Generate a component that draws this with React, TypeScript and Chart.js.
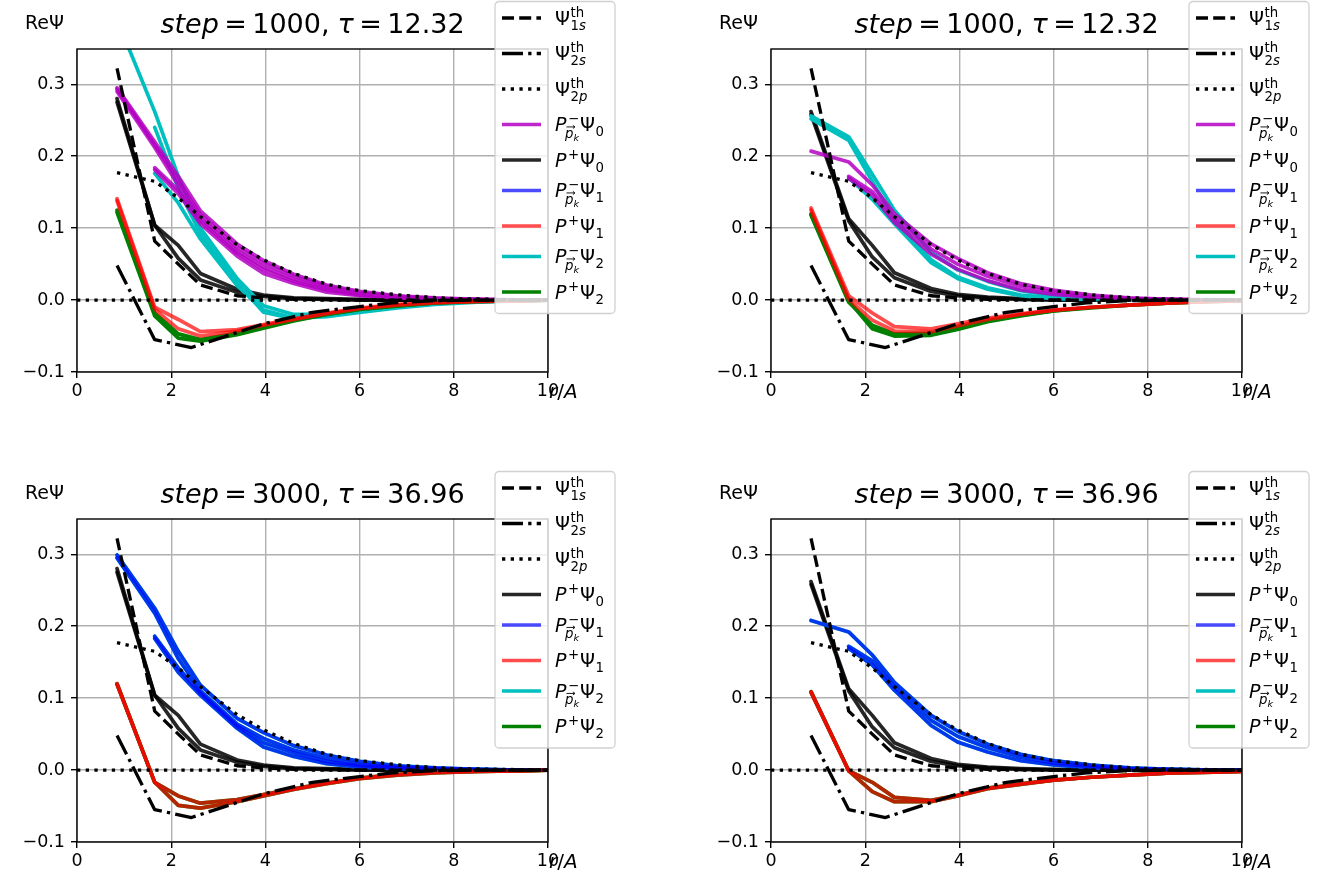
import React, { useEffect, useRef } from "react";
import { Chart, registerables } from "chart.js";

Chart.register(...registerables);

// ---------- grids and ticks ----------
const R_SITES = [0.85, 1.65, 2.15, 2.62, 3.4, 3.96, 4.6, 5.3, 6.0, 6.8, 7.6, 8.5, 9.4, 10.0];
const R_SHELL = [1.65, 2.15, 2.62, 3.4, 3.96, 4.6, 5.3, 6.0, 6.8, 7.6, 8.5, 9.4, 10.0];
const X_TICKS = [0, 2, 4, 6, 8, 10];
const Y_TICKS = [-0.1, 0.0, 0.1, 0.2, 0.3];
const STEPS = [1000, 1000, 3000, 3000];
const TAUS = ["12.32", "12.32", "36.96", "36.96"];

// ---------- theoretical curves ----------
const PSI1S_R = [0.85, 1.65, 2.15, 2.62, 3.4, 3.96, 4.6, 5.3, 6.5, 8.0, 10.0];
const PSI1S = [0.322, 0.082, 0.05, 0.021, 0.006, 0.003, 0.001, 0.0005, 0.0, 0.0, 0.0];
const PSI2S_R = [0.85, 1.65, 2.43, 3.96, 5.0, 6.0, 6.7, 7.5, 8.5, 10.0];
const PSI2S = [0.048, -0.055, -0.066, -0.033, -0.017, -0.009, -0.004, -0.001, 0.0, 0.0];
const PSI2P_R = [0.85, 1.65, 2.15, 2.62, 3.4, 3.96, 4.6, 5.3, 6.0, 7.0, 8.0, 9.0, 10.0];
const PSI2P = [0.177, 0.165, 0.142, 0.116, 0.077, 0.056, 0.037, 0.022, 0.013, 0.006, 0.002, 0.001, 0.0];
const ZERO_R = [0, 10];
const ZERO = [0, 0];

// ---------- top-left: step 1000 ----------
const TL_MAG_A = [0.295, 0.22, 0.172, 0.124, 0.078, 0.055, 0.036, 0.021, 0.012, 0.006, 0.003, 0.001, 0.0, 0.0];
const TL_MAG_B = [0.29, 0.212, 0.16, 0.114, 0.068, 0.046, 0.029, 0.016, 0.008, 0.004, 0.002, 0.001, 0.0, 0.0];
const TL_MAG_C = [0.181, 0.148, 0.106, 0.061, 0.037, 0.023, 0.011, 0.006, 0.003, 0.001, 0.0, 0.0, 0.0];
const TL_MAG_D = [0.293, 0.216, 0.166, 0.119, 0.073, 0.051, 0.033, 0.019, 0.01, 0.005, 0.002, 0.001, 0.0, 0.0];
const TL_MAG_E = [0.184, 0.153, 0.11, 0.065, 0.042, 0.026, 0.014, 0.007, 0.003, 0.001, 0.0, 0.0, 0.0];
const TL_BLK_A = [0.28, 0.104, 0.076, 0.037, 0.015, 0.007, 0.003, 0.002, 0.001, 0.0, 0.0, 0.0, 0.0, 0.0];
const TL_BLK_B = [0.275, 0.104, 0.058, 0.028, 0.011, 0.005, 0.002, 0.001, 0.0, 0.0, 0.0, 0.0, 0.0, 0.0];
const TL_CYN_A = [0.39, 0.262, 0.172, 0.1, 0.03, -0.008, -0.02, -0.02, -0.014, -0.009, -0.005, -0.002, -0.001, 0.0];
const TL_CYN_B = [0.176, 0.135, 0.085, 0.02, -0.014, -0.025, -0.023, -0.017, -0.011, -0.006, -0.003, -0.001, 0.0];
const TL_CYN_C = [0.24, 0.155, 0.092, 0.024, -0.017, -0.026, -0.021, -0.015, -0.009, -0.005, -0.002, -0.001, 0.0];
const TL_RED_A = [0.141, -0.01, -0.027, -0.044, -0.041, -0.034, -0.026, -0.018, -0.011, -0.006, -0.003, -0.002, -0.001, 0.0];
const TL_RED_B = [0.138, -0.013, -0.04, -0.05, -0.043, -0.035, -0.027, -0.019, -0.012, -0.007, -0.004, -0.002, -0.001, 0.0];
const TL_GRN_A = [0.125, -0.018, -0.047, -0.055, -0.046, -0.037, -0.028, -0.02, -0.013, -0.008, -0.004, -0.002, -0.001, 0.0];
const TL_GRN_B = [0.122, -0.022, -0.053, -0.057, -0.048, -0.039, -0.029, -0.02, -0.013, -0.008, -0.004, -0.002, -0.001, 0.0];

// ---------- top-right ----------
const TR_MAG_A = [0.207, 0.192, 0.16, 0.12, 0.078, 0.058, 0.038, 0.023, 0.014, 0.007, 0.003, 0.001, 0.0, 0.0];
const TR_MAG_B = [0.169, 0.146, 0.108, 0.064, 0.043, 0.027, 0.014, 0.008, 0.004, 0.002, 0.001, 0.0, 0.0];
const TR_MAG_C = [0.172, 0.151, 0.114, 0.071, 0.05, 0.033, 0.019, 0.011, 0.005, 0.002, 0.001, 0.0, 0.0];
const TR_BLK_A = [0.262, 0.113, 0.076, 0.038, 0.016, 0.008, 0.004, 0.002, 0.001, 0.0, 0.0, 0.0, 0.0, 0.0];
const TR_BLK_B = [0.258, 0.11, 0.06, 0.031, 0.012, 0.006, 0.003, 0.001, 0.0, 0.0, 0.0, 0.0, 0.0, 0.0];
const TR_CYN_A = [0.256, 0.227, 0.175, 0.125, 0.066, 0.042, 0.026, 0.013, 0.006, 0.003, 0.001, 0.0, 0.0, 0.0];
const TR_CYN_B = [0.252, 0.222, 0.165, 0.113, 0.056, 0.032, 0.017, 0.007, 0.003, 0.001, 0.0, 0.0, 0.0, 0.0];
const TR_CYN_C = [0.17, 0.14, 0.106, 0.052, 0.03, 0.015, 0.006, 0.002, 0.001, 0.0, 0.0, 0.0, 0.0];
const TR_RED_A = [0.128, 0.006, -0.018, -0.037, -0.04, -0.033, -0.025, -0.019, -0.014, -0.01, -0.007, -0.004, -0.002, -0.001];
const TR_RED_B = [0.125, 0.001, -0.028, -0.043, -0.044, -0.036, -0.027, -0.02, -0.014, -0.01, -0.007, -0.004, -0.002, -0.001];
const TR_GRN_A = [0.12, -0.001, -0.04, -0.05, -0.049, -0.041, -0.03, -0.022, -0.015, -0.011, -0.007, -0.004, -0.002, -0.001];
const TR_GRN_B = [0.118, -0.003, -0.035, -0.047, -0.046, -0.038, -0.029, -0.021, -0.015, -0.01, -0.007, -0.004, -0.002, -0.001];

// ---------- bottom-left: step 3000 ----------
const BL_BLK_A = [0.28, 0.104, 0.076, 0.036, 0.014, 0.007, 0.003, 0.002, 0.001, 0.0, 0.0, 0.0, 0.0, 0.0];
const BL_BLK_B = [0.275, 0.104, 0.058, 0.028, 0.011, 0.005, 0.002, 0.001, 0.0, 0.0, 0.0, 0.0, 0.0, 0.0];
const BL_BLU_A = [0.299, 0.225, 0.165, 0.118, 0.072, 0.052, 0.034, 0.021, 0.012, 0.006, 0.003, 0.001, 0.0, 0.0];
const BL_BLU_B = [0.295, 0.218, 0.155, 0.11, 0.064, 0.044, 0.028, 0.016, 0.008, 0.004, 0.002, 0.001, 0.0, 0.0];
const BL_BLU_C = [0.183, 0.136, 0.104, 0.058, 0.032, 0.019, 0.009, 0.004, 0.002, 0.001, 0.0, 0.0, 0.0];
const BL_BLU_D = [0.186, 0.142, 0.107, 0.061, 0.038, 0.024, 0.012, 0.006, 0.003, 0.001, 0.0, 0.0, 0.0];
const BL_RED_A = [0.12, -0.017, -0.036, -0.046, -0.041, -0.034, -0.026, -0.018, -0.011, -0.006, -0.003, -0.002, -0.001, 0.0];
const BL_RED_B = [0.119, -0.017, -0.049, -0.053, -0.044, -0.036, -0.027, -0.019, -0.012, -0.007, -0.004, -0.002, -0.001, 0.0];

// ---------- bottom-right ----------
const BR_BLK_A = [0.262, 0.113, 0.076, 0.038, 0.016, 0.008, 0.004, 0.002, 0.001, 0.0, 0.0, 0.0, 0.0, 0.0];
const BR_BLK_B = [0.258, 0.11, 0.06, 0.031, 0.012, 0.006, 0.003, 0.001, 0.0, 0.0, 0.0, 0.0, 0.0, 0.0];
const BR_BLU_A = [0.208, 0.192, 0.16, 0.122, 0.076, 0.054, 0.036, 0.022, 0.013, 0.007, 0.003, 0.001, 0.0, 0.0];
const BR_BLU_B = [0.169, 0.146, 0.111, 0.062, 0.039, 0.025, 0.013, 0.007, 0.003, 0.001, 0.0, 0.0, 0.0];
const BR_BLU_C = [0.172, 0.152, 0.116, 0.069, 0.047, 0.031, 0.018, 0.01, 0.005, 0.002, 0.001, 0.0, 0.0];
const BR_RED_A = [0.109, -0.001, -0.017, -0.038, -0.042, -0.035, -0.025, -0.019, -0.014, -0.01, -0.007, -0.004, -0.003, -0.002];
const BR_RED_B = [0.108, -0.001, -0.03, -0.044, -0.044, -0.036, -0.026, -0.02, -0.014, -0.01, -0.007, -0.004, -0.003, -0.002];

// ---------- styles ----------
type Kind = "th1s" | "th2s" | "th2p" | "Pm0" | "Pp0" | "Pm1" | "Pp1" | "Pm2" | "Pp2";
const STYLE: Record<Kind, { color: string; dash: number[]; width: number }> = {
  th1s: { color: "#000000", dash: [12, 5.2], width: 3.3 },
  th2s: { color: "#000000", dash: [21, 5.2, 3.3, 5.2], width: 3.3 },
  th2p: { color: "#000000", dash: [3.3, 5.4], width: 3.3 },
  Pm0: { color: "rgba(180,0,195,0.85)", dash: [], width: 3.7 },
  Pp0: { color: "rgba(0,0,0,0.85)", dash: [], width: 3.7 },
  Pm1: { color: "rgba(0,0,255,0.7)", dash: [], width: 3.7 },
  Pp1: { color: "rgba(255,0,0,0.7)", dash: [], width: 3.7 },
  Pm2: { color: "rgb(0,191,191)", dash: [], width: 3.7 },
  Pp2: { color: "rgb(0,128,0)", dash: [], width: 3.7 },
};
// first = drawn on top
const RANK: Kind[] = ["th2p", "th2s", "th1s", "Pp1", "Pm1", "Pp2", "Pm0", "Pm2", "Pp0"];

type Line = { r: number[]; v: number[]; kind: Kind };
const THEORY: Line[] = [
  { r: PSI1S_R, v: PSI1S, kind: "th1s" },
  { r: PSI2S_R, v: PSI2S, kind: "th2s" },
  { r: PSI2P_R, v: PSI2P, kind: "th2p" },
  { r: ZERO_R, v: ZERO, kind: "th2p" },
];

const LEG_TOP: Kind[] = ["th1s", "th2s", "th2p", "Pm0", "Pp0", "Pm1", "Pp1", "Pm2", "Pp2"];
const LEG_BOT: Kind[] = ["th1s", "th2s", "th2p", "Pp0", "Pm1", "Pp1", "Pm2", "Pp2"];

const PANELS: { lines: Line[]; legend: Kind[] }[] = [
  {
    legend: LEG_TOP,
    lines: [
      { r: R_SITES, v: TL_MAG_A, kind: "Pm0" }, { r: R_SITES, v: TL_MAG_B, kind: "Pm0" }, { r: R_SHELL, v: TL_MAG_C, kind: "Pm0" },
      { r: R_SITES, v: TL_MAG_D, kind: "Pm0" }, { r: R_SHELL, v: TL_MAG_E, kind: "Pm0" },
      { r: R_SITES, v: TL_BLK_A, kind: "Pp0" }, { r: R_SITES, v: TL_BLK_B, kind: "Pp0" },
      { r: R_SITES, v: TL_CYN_A, kind: "Pm2" }, { r: R_SHELL, v: TL_CYN_B, kind: "Pm2" }, { r: R_SHELL, v: TL_CYN_C, kind: "Pm2" },
      { r: R_SITES, v: TL_RED_A, kind: "Pp1" }, { r: R_SITES, v: TL_RED_B, kind: "Pp1" },
      { r: R_SITES, v: TL_GRN_A, kind: "Pp2" }, { r: R_SITES, v: TL_GRN_B, kind: "Pp2" },
    ],
  },
  {
    legend: LEG_TOP,
    lines: [
      { r: R_SITES, v: TR_MAG_A, kind: "Pm0" }, { r: R_SHELL, v: TR_MAG_B, kind: "Pm0" }, { r: R_SHELL, v: TR_MAG_C, kind: "Pm0" },
      { r: R_SITES, v: TR_BLK_A, kind: "Pp0" }, { r: R_SITES, v: TR_BLK_B, kind: "Pp0" },
      { r: R_SITES, v: TR_CYN_A, kind: "Pm2" }, { r: R_SITES, v: TR_CYN_B, kind: "Pm2" }, { r: R_SHELL, v: TR_CYN_C, kind: "Pm2" },
      { r: R_SITES, v: TR_RED_A, kind: "Pp1" }, { r: R_SITES, v: TR_RED_B, kind: "Pp1" },
      { r: R_SITES, v: TR_GRN_A, kind: "Pp2" }, { r: R_SITES, v: TR_GRN_B, kind: "Pp2" },
    ],
  },
  {
    legend: LEG_BOT,
    lines: [
      { r: R_SITES, v: BL_BLK_A, kind: "Pp0" }, { r: R_SITES, v: BL_BLK_B, kind: "Pp0" },
      { r: R_SITES, v: BL_BLU_A, kind: "Pm2" }, { r: R_SITES, v: BL_BLU_B, kind: "Pm2" }, { r: R_SHELL, v: BL_BLU_C, kind: "Pm2" }, { r: R_SHELL, v: BL_BLU_D, kind: "Pm2" },
      { r: R_SITES, v: BL_BLU_A, kind: "Pm1" }, { r: R_SITES, v: BL_BLU_B, kind: "Pm1" }, { r: R_SHELL, v: BL_BLU_C, kind: "Pm1" }, { r: R_SHELL, v: BL_BLU_D, kind: "Pm1" },
      { r: R_SITES, v: BL_RED_A, kind: "Pp2" }, { r: R_SITES, v: BL_RED_B, kind: "Pp2" },
      { r: R_SITES, v: BL_RED_A, kind: "Pp1" }, { r: R_SITES, v: BL_RED_B, kind: "Pp1" },
    ],
  },
  {
    legend: LEG_BOT,
    lines: [
      { r: R_SITES, v: BR_BLK_A, kind: "Pp0" }, { r: R_SITES, v: BR_BLK_B, kind: "Pp0" },
      { r: R_SITES, v: BR_BLU_A, kind: "Pm2" }, { r: R_SHELL, v: BR_BLU_B, kind: "Pm2" }, { r: R_SHELL, v: BR_BLU_C, kind: "Pm2" },
      { r: R_SITES, v: BR_BLU_A, kind: "Pm1" }, { r: R_SHELL, v: BR_BLU_B, kind: "Pm1" }, { r: R_SHELL, v: BR_BLU_C, kind: "Pm1" },
      { r: R_SITES, v: BR_RED_A, kind: "Pp2" }, { r: R_SITES, v: BR_RED_B, kind: "Pp2" },
      { r: R_SITES, v: BR_RED_A, kind: "Pp1" }, { r: R_SITES, v: BR_RED_B, kind: "Pp1" },
    ],
  },
];

// ---------- drawing helpers ----------
const FAM = '"DejaVu Sans"';
const fnt = (size: number, it = false) => `${it ? "italic " : ""}${size}px ${FAM}`;

function drawTitle(ctx: CanvasRenderingContext2D, cx: number, b: number, step: number, tau: string) {
  const fs = 27;
  const parts: { t?: string; it?: boolean; gap?: number }[] = [
    { t: "step", it: true }, { gap: 0.2 }, { t: "=" }, { gap: 0.2 }, { t: `${step},` }, { gap: 0.3 },
    { t: "τ", it: true }, { gap: 0.2 }, { t: "=" }, { gap: 0.2 }, { t: tau },
  ];
  const widths = parts.map((p) => {
    if (p.gap !== undefined) return p.gap * fs;
    ctx.font = fnt(fs, p.it);
    return ctx.measureText(p.t!).width;
  });
  const total = widths.reduce((s, w) => s + w, 0);
  let x = cx - total / 2;
  ctx.fillStyle = "#000";
  ctx.textBaseline = "alphabetic";
  ctx.textAlign = "left";
  parts.forEach((p, i) => {
    if (p.t) {
      ctx.font = fnt(fs, p.it);
      ctx.fillText(p.t, x, b);
    }
    x += widths[i];
  });
}

function drawLabel(ctx: CanvasRenderingContext2D, kind: Kind, x: number, yc: number) {
  const fs = 19;
  const ss = fs * 0.7;
  const b = yc + 6.5;
  ctx.fillStyle = "#000";
  ctx.textBaseline = "alphabetic";
  ctx.textAlign = "left";
  if (kind.startsWith("th")) {
    ctx.font = fnt(fs);
    ctx.fillText("Ψ", x, b);
    const xs = x + ctx.measureText("Ψ").width + 0.5;
    ctx.font = fnt(ss);
    ctx.fillText("th", xs, b - 0.42 * fs);
    const digit = kind === "th1s" ? "1" : "2";
    const letter = kind === "th2p" ? "p" : "s";
    ctx.fillText(digit, xs, b + 0.28 * fs);
    const w1 = ctx.measureText(digit).width;
    ctx.font = fnt(ss, true);
    ctx.fillText(letter, xs + w1, b + 0.28 * fs);
    return;
  }
  const minus = kind.startsWith("Pm");
  const n = kind.slice(2);
  ctx.font = fnt(fs, true);
  ctx.fillText("P", x, b);
  let cx = x + ctx.measureText("P").width;
  ctx.font = fnt(ss);
  const sign = minus ? "−" : "+";
  ctx.fillText(sign, cx + 1.5, b - 0.42 * fs);
  const supEnd = cx + 1.5 + ctx.measureText(sign).width;
  let subEnd = cx;
  if (minus) {
    const px = cx - 1.5;
    const py = b + 0.36 * fs;
    ctx.font = fnt(ss, true);
    ctx.fillText("p", px, py);
    const pw = ctx.measureText("p").width;
    const ay = py - ss * 0.82;
    ctx.strokeStyle = "#000";
    ctx.lineWidth = 0.9;
    ctx.setLineDash([]);
    ctx.beginPath();
    ctx.moveTo(px + 1.5, ay);
    ctx.lineTo(px + pw + 1.5, ay);
    ctx.moveTo(px + pw - 0.5, ay - 1.6);
    ctx.lineTo(px + pw + 1.5, ay);
    ctx.lineTo(px + pw - 0.5, ay + 1.6);
    ctx.stroke();
    ctx.font = fnt(ss * 0.72, true);
    ctx.fillText("k", px + pw, py + 0.14 * fs);
    subEnd = px + pw + ctx.measureText("k").width;
  }
  cx = Math.max(supEnd, subEnd) + 1;
  ctx.font = fnt(fs);
  ctx.fillText("Ψ", cx, b);
  cx += ctx.measureText("Ψ").width + 0.5;
  ctx.font = fnt(ss);
  ctx.fillText(n, cx, b + 0.28 * fs);
}

function drawLegend(ctx: CanvasRenderingContext2D, entries: Kind[], x0: number, y0: number) {
  const ys: number[] = [];
  let y = y0 + 16.5;
  entries.forEach((e, i) => {
    if (i > 0) y += entries[i - 1].startsWith("Pp") ? 30.5 : 35.5;
    ys.push(y);
  });
  const h = ys[ys.length - 1] + 21.5 - y0;
  const w = 120;
  const r = 4;
  ctx.save();
  ctx.setLineDash([]);
  ctx.beginPath();
  ctx.moveTo(x0 + r, y0);
  ctx.lineTo(x0 + w - r, y0);
  ctx.arcTo(x0 + w, y0, x0 + w, y0 + r, r);
  ctx.lineTo(x0 + w, y0 + h - r);
  ctx.arcTo(x0 + w, y0 + h, x0 + w - r, y0 + h, r);
  ctx.lineTo(x0 + r, y0 + h);
  ctx.arcTo(x0, y0 + h, x0, y0 + h - r, r);
  ctx.lineTo(x0, y0 + r);
  ctx.arcTo(x0, y0, x0 + r, y0, r);
  ctx.closePath();
  ctx.fillStyle = "rgba(255,255,255,0.8)";
  ctx.fill();
  ctx.strokeStyle = "rgba(204,204,204,0.9)";
  ctx.lineWidth = 1.3;
  ctx.stroke();
  entries.forEach((k, i) => {
    const st = STYLE[k];
    ctx.strokeStyle = st.color;
    ctx.lineWidth = st.width;
    ctx.setLineDash(st.dash);
    ctx.lineCap = "butt";
    ctx.beginPath();
    ctx.moveTo(x0 + 7, ys[i]);
    ctx.lineTo(x0 + 46, ys[i]);
    ctx.stroke();
    ctx.setLineDash([]);
    drawLabel(ctx, k, x0 + 60, ys[i]);
  });
  ctx.restore();
}

// ---------- panel ----------
const CW = 636;
const CH = 415;

function Panel({ idx, left, top }: { idx: number; left: number; top: number }) {
  const ref = useRef<HTMLCanvasElement | null>(null);
  useEffect(() => {
    const spec = PANELS[idx];
    const all: Line[] = [...THEORY, ...spec.lines];
    const sorted = all
      .map((l, i) => ({ l, i }))
      .sort((a, b) => RANK.indexOf(a.l.kind) - RANK.indexOf(b.l.kind) || a.i - b.i)
      .map((o) => o.l);
    const datasets = sorted.map((l) => {
      const st = STYLE[l.kind];
      return {
        data: l.r.map((x, i) => ({ x, y: l.v[i] })),
        borderColor: st.color,
        borderWidth: st.width,
        borderDash: st.dash,
        borderCapStyle: (st.dash.length ? "butt" : "round") as CanvasLineCap,
        borderJoinStyle: "round" as CanvasLineJoin,
        pointRadius: 0,
        fill: false,
        tension: 0,
        clip: 0,
      };
    });
    const decor = {
      id: "decor",
      afterDraw(chart: any) {
        const ctx: CanvasRenderingContext2D = chart.ctx;
        const a = chart.chartArea;
        ctx.save();
        ctx.setLineDash([]);
        ctx.strokeStyle = "#000";
        ctx.lineWidth = 1.4;
        ctx.strokeRect(a.left, a.top, a.right - a.left, a.bottom - a.top);
        drawTitle(ctx, (a.left + a.right) / 2, 33, STEPS[idx], TAUS[idx]);
        ctx.fillStyle = "#000";
        ctx.textAlign = "left";
        ctx.textBaseline = "alphabetic";
        ctx.font = fnt(19);
        ctx.fillText("ReΨ", 25, 29);
        let x = 549;
        const b = 398;
        ctx.font = fnt(20, true);
        ctx.fillText("r", x, b);
        x += ctx.measureText("r").width;
        ctx.font = fnt(20);
        ctx.fillText("/", x, b);
        x += ctx.measureText("/").width;
        ctx.font = fnt(20, true);
        ctx.fillText("A", x, b);
        drawLegend(ctx, spec.legend, 495, 1.5);
        ctx.restore();
      },
    };
    const tickFont = { family: "DejaVu Sans", size: 17.5 };
    const chart = new Chart(ref.current!, {
      type: "line",
      data: { datasets: datasets as any },
      plugins: [decor],
      options: {
        responsive: false,
        animation: false,
        devicePixelRatio: 1,
        events: [],
        layout: { padding: { left: 0, top: 49, right: 88, bottom: 0 } },
        plugins: { legend: { display: false }, tooltip: { enabled: false }, title: { display: false } },
        scales: {
          x: {
            type: "linear",
            min: 0,
            max: 10,
            afterBuildTicks: (s: any) => {
              s.ticks = X_TICKS.map((v) => ({ value: v }));
            },
            afterFit: (s: any) => {
              s.height = 43;
            },
            border: { display: false },
            grid: { color: "#b0b0b0", lineWidth: 1.4, tickColor: "#000", tickWidth: 1.4, tickLength: 6, drawTicks: true },
            ticks: {
              color: "#000",
              font: tickFont,
              padding: 3,
              maxRotation: 0,
              autoSkip: false,
              callback: (v: any) => String(v),
            },
          },
          y: {
            type: "linear",
            min: -0.1,
            max: 0.349,
            afterBuildTicks: (s: any) => {
              s.ticks = Y_TICKS.map((v) => ({ value: v }));
            },
            afterFit: (s: any) => {
              s.width = 77;
            },
            border: { display: false },
            grid: { color: "#b0b0b0", lineWidth: 1.4, tickColor: "#000", tickWidth: 1.4, tickLength: 6, drawTicks: true },
            ticks: {
              color: "#000",
              font: tickFont,
              padding: 6,
              autoSkip: false,
              callback: (v: any) => (v < -1e-9 ? "−" : "") + Math.abs(Number(v)).toFixed(1),
            },
          },
        },
      } as any,
    });
    return () => chart.destroy();
  }, [idx]);
  return (
    <div style={{ position: "absolute", left, top, width: CW, height: CH }}>
      <canvas ref={ref} width={CW} height={CH} style={{ width: CW, height: CH, display: "block" }} />
    </div>
  );
}

export default function App() {
  return (
    <div style={{ position: "absolute", left: 0, top: 0, width: 1330, height: 885, background: "#fff", overflow: "hidden" }}>
      <Panel idx={0} left={0} top={0} />
      <Panel idx={1} left={694} top={0} />
      <Panel idx={2} left={0} top={470} />
      <Panel idx={3} left={694} top={470} />
    </div>
  );
}
